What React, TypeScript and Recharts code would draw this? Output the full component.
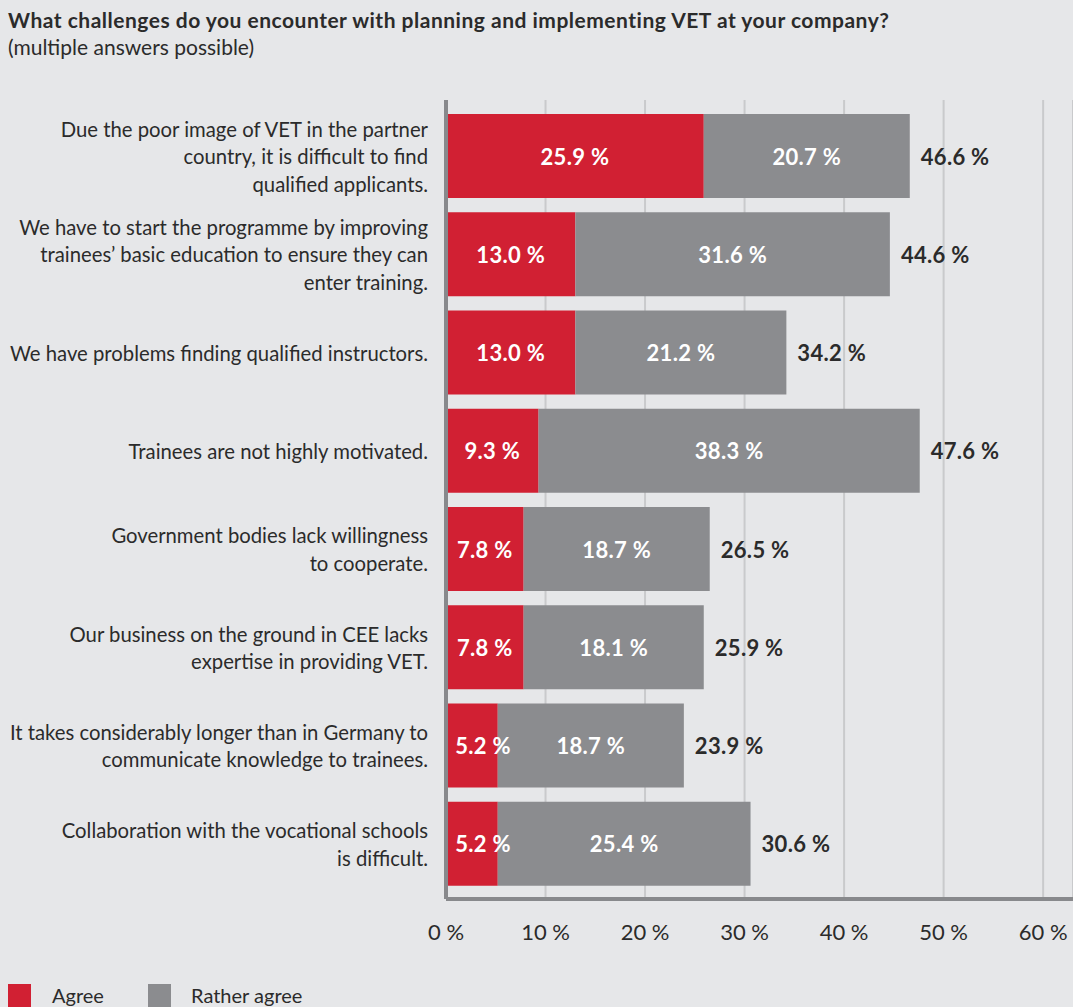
import React from 'react';
import { BarChart, Bar, XAxis, YAxis, CartesianGrid, LabelList } from 'recharts';

const categories = [
  'Due the poor image of VET in the partner\ncountry, it is difficult to find\nqualified applicants.',
  'We have to start the programme by improving\ntrainees’ basic education to ensure they can\nenter training.',
  'We have problems finding qualified instructors.',
  'Trainees are not highly motivated.',
  'Government bodies lack willingness\nto cooperate.',
  'Our business on the ground in CEE lacks\nexpertise in providing VET.',
  'It takes considerably longer than in Germany to\ncommunicate knowledge to trainees.',
  'Collaboration with the vocational schools\nis difficult.',
];
const agree = [25.9, 13.0, 13.0, 9.3, 7.8, 7.8, 5.2, 5.2];
const ratherAgree = [20.7, 31.6, 21.2, 38.3, 18.7, 18.1, 18.7, 25.4];
const totals = [46.6, 44.6, 34.2, 47.6, 26.5, 25.9, 23.9, 30.6];
const xTicks = [0, 10, 20, 30, 40, 50, 60];

const data = categories.map((name, i) => ({
  name,
  agree: agree[i],
  ratherAgree: ratherAgree[i],
  total: totals[i],
}));

const RED = '#d12033';
const GREY = '#8b8c8f';
const BG = '#e6e7e9';
const TEXT = '#2b2b2b';
const FONT = "Lato, 'Liberation Sans', sans-serif";

const fmt = (v: number) => `${v.toFixed(1)}\u00a0%`;

const CategoryTick = (props: any) => {
  const { x, y, payload } = props;
  const lines = String(payload.value).split('\n');
  const lh = 27.5;
  const start = y - ((lines.length - 1) * lh) / 2;
  return (
    <text x={x} y={start} textAnchor="end" fill={TEXT} fontSize={20.3} fontFamily={FONT}>
      {lines.map((l, i) => (
        <tspan key={i} x={x} y={start + i * lh} dominantBaseline="central">
          {l}
        </tspan>
      ))}
    </text>
  );
};

const InsideLabel = (props: any) => {
  const { x, y, width, height, value } = props;
  const w = 64;
  let cx = x + width / 2;
  if (width < w + 10) cx = x + 5 + w / 2;
  return (
    <text
      x={cx}
      y={y + height / 2}
      textAnchor="middle"
      dominantBaseline="central"
      fill="#ffffff"
      fontSize={22}
      fontWeight={700}
      letterSpacing={0.3}
      fontFamily={FONT}
    >
      {fmt(Number(value))}
    </text>
  );
};

const TotalLabel = (props: any) => {
  const { x, y, width, height, value } = props;
  return (
    <text
      x={x + width + 11}
      y={y + height / 2}
      textAnchor="start"
      dominantBaseline="central"
      fill={TEXT}
      fontSize={22}
      fontWeight={700}
      letterSpacing={0.3}
      fontFamily={FONT}
    >
      {fmt(Number(value))}
    </text>
  );
};

export default function App() {
  return (
    <div
      style={{
        position: 'absolute',
        left: 0,
        top: 0,
        width: 1073,
        height: 1007,
        background: BG,
        overflow: 'hidden',
        fontFamily: FONT,
        color: TEXT,
      }}
    >
      <div
        style={{
          position: 'absolute',
          left: 8,
          top: 7,
          fontSize: 21,
          fontWeight: 700,
          letterSpacing: 0.5,
          lineHeight: '26px',
          whiteSpace: 'nowrap',
        }}
      >
        What challenges do you encounter with planning and implementing VET at your company?
      </div>
      <div style={{ position: 'absolute', left: 8, top: 34, fontSize: 21, lineHeight: '26px' }}>
        (multiple answers possible)
      </div>

      <div style={{ position: 'absolute', left: 0, top: 0 }}>
        <BarChart
          width={1073}
          height={1007}
          data={data}
          layout="vertical"
          margin={{ top: 100, right: 0, left: 0, bottom: 48 }}
        >
          <CartesianGrid horizontal={false} vertical stroke="#c9cacc" strokeWidth={2} />
          <XAxis
            type="number"
            domain={[0, 63]}
            ticks={xTicks}
            tickFormatter={(v) => `${v}\u00a0%`}
            tickLine={false}
            tickSize={0}
            tickMargin={25}
            height={60}
            axisLine={{ stroke: '#88898c', strokeWidth: 4 }}
            tick={{ fill: TEXT, fontSize: 22, fontFamily: FONT }}
            allowDataOverflow
          />
          <YAxis
            type="category"
            dataKey="name"
            width={446}
            tickLine={false}
            tickSize={0}
            tickMargin={18}
            padding={{ top: 7, bottom: 6 }}
            axisLine={{ stroke: '#88898c', strokeWidth: 4 }}
            tick={<CategoryTick />}
            interval={0}
          />
          <Bar dataKey="agree" stackId="a" fill={RED} barSize={84} isAnimationActive={false}>
            <LabelList dataKey="agree" content={<InsideLabel />} />
          </Bar>
          <Bar dataKey="ratherAgree" stackId="a" fill={GREY} barSize={84} isAnimationActive={false}>
            <LabelList dataKey="ratherAgree" content={<InsideLabel />} />
            <LabelList dataKey="total" content={<TotalLabel />} />
          </Bar>
        </BarChart>
      </div>

      <div
        style={{
          position: 'absolute',
          left: 8,
          top: 984,
          display: 'flex',
          alignItems: 'flex-start',
          fontSize: 20,
          lineHeight: '22px',
        }}
      >
        <span style={{ display: 'inline-block', width: 23, height: 23, background: RED }} />
        <span style={{ marginLeft: 21, width: 96 }}>Agree</span>
        <span style={{ display: 'inline-block', width: 23, height: 23, background: GREY }} />
        <span style={{ marginLeft: 20 }}>Rather agree</span>
      </div>
    </div>
  );
}
